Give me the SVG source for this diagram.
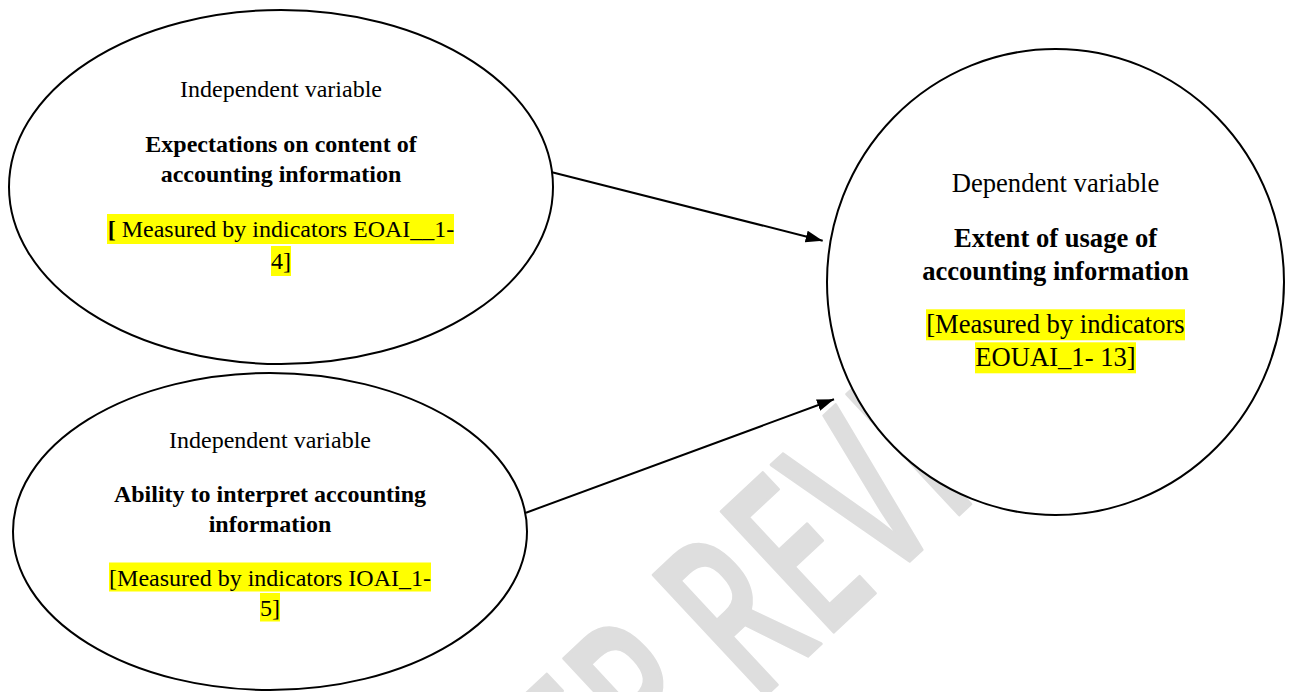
<svg xmlns="http://www.w3.org/2000/svg" width="1291" height="692" viewBox="0 0 1291 692">
<defs>
<style>
.node{fill:#fff;stroke:#000;stroke-width:2}
.t{font-family:"Liberation Serif","Times New Roman",serif;fill:#000;text-anchor:middle}
.s24{font-size:24px}
.s26{font-size:26.6px}
.b{font-weight:bold}
.hl{fill:#ffff00}
.conn{stroke:#000;stroke-width:2;fill:none}
.wm{font-family:"Open Sans","Noto Sans",sans-serif;font-weight:600;font-size:231px;fill:#dedede;stroke:#dedede;stroke-width:3;stroke-linejoin:round}
</style>
<marker id="arrow" markerWidth="17" markerHeight="12" refX="17" refY="6" orient="auto" markerUnits="userSpaceOnUse">
<path d="M0,0 L17,6 L0,12 z" fill="#000"/>
</marker>
</defs>
<rect width="1291" height="692" fill="#fff"/>
<g id="watermark" transform="translate(765,696) rotate(-43) scale(0.62,1)">
<text class="wm"><tspan x="-71" y="0" text-anchor="end">UNDER PEER</tspan><tspan x="-21 129 261 406 484 605" y="0">REVIEW</tspan></text>
</g>
<g id="connectors">
<line class="conn" x1="550" y1="171.7" x2="822.7" y2="240.7" marker-end="url(#arrow)"/>
<line class="conn" x1="526" y1="512.7" x2="834" y2="399.3" marker-end="url(#arrow)"/>
</g>
<g id="node-expectations">
<ellipse class="node" cx="281" cy="187" rx="272" ry="177"/>
<text class="t s24" x="281" y="96.5">Independent variable</text>
<text class="t s24 b" x="281" y="152">Expectations on content of</text>
<text class="t s24 b" x="281" y="182">accounting information</text>
<rect class="hl" x="107" y="214" width="347" height="30"/>
<rect class="hl" x="271" y="246" width="20" height="30"/>
<text class="t s24" x="281" y="237"><tspan font-weight="bold">[</tspan> Measured by indicators EOAI__1-</text>
<text class="t s24" x="281" y="269">4]</text>
</g>
<g id="node-ability">
<ellipse class="node" cx="270" cy="531.5" rx="257" ry="158.5"/>
<text class="t s24" x="270" y="448">Independent variable</text>
<text class="t s24 b" x="270" y="502">Ability to interpret accounting</text>
<text class="t s24 b" x="270" y="532">information</text>
<rect class="hl" x="109" y="562.5" width="322" height="29"/>
<rect class="hl" x="260" y="593" width="20" height="28.5"/>
<text class="t s24" x="270" y="585.5">[Measured by indicators IOAI_1-</text>
<text class="t s24" x="270" y="616">5]</text>
</g>
<g id="node-extent">
<ellipse class="node" cx="1055.5" cy="282" rx="228.5" ry="233"/>
<text class="t s26" x="1055.5" y="191.7">Dependent variable</text>
<text class="t s26 b" x="1055.5" y="246.7">Extent of usage of</text>
<text class="t s26 b" x="1055.5" y="280">accounting information</text>
<rect class="hl" x="926" y="309.3" width="259" height="31"/>
<rect class="hl" x="975" y="342.3" width="161" height="31"/>
<text class="t s26" x="1055.5" y="333.3">[Measured by indicators</text>
<text class="t s26" x="1055.5" y="366.3">EOUAI_1- 13]</text>
</g>
</svg>
